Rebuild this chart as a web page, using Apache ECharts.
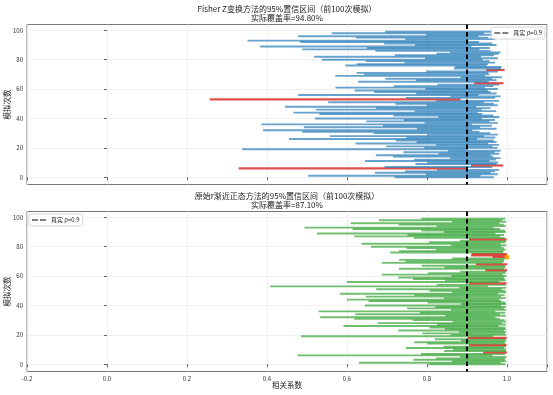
<!DOCTYPE html>
<html><head><meta charset="utf-8">
<script src="https://cdn.jsdelivr.net/npm/echarts@6/dist/echarts.min.js"></script>
<style>html,body{margin:0;padding:0;background:#fff}#c{width:553px;height:395px}</style>
</head><body><div id="c"></div>
<script>
// ---- data ----
const trueRho = 0.9;
const topTitle = 'Fisher Z变换方法的95%置信区间（前100次模拟）\n实际覆盖率=94.80%';
const bottomTitle = '原始r渐近正态方法的95%置信区间（前100次模拟）\n实际覆盖率=87.10%';
const legendLabel = '真实 ρ=0.9';
const xLabel = '相关系数';
const yLabel = '模拟次数';
const yTickValues = [0, 20, 40, 60, 80, 100];

// Fisher Z intervals, simulations 0..99
const fisherLower = [
 0.719,0.503,0.797,0.670,0.745,0.825,0.329,0.694,0.910,0.771,
 0.801,0.645,0.768,0.858,0.715,0.672,0.829,0.741,0.853,0.338,
 0.793,0.698,0.822,0.621,0.774,0.722,0.455,0.748,0.557,0.800,
 0.667,0.488,0.390,0.775,0.492,0.690,0.386,0.794,0.648,0.742,
 0.520,0.828,0.716,0.531,0.466,0.769,0.522,0.673,0.445,0.799,
 0.721,0.553,0.823,0.257,0.747,0.858,0.478,0.773,0.668,0.619,
 0.796,0.571,0.717,0.826,0.918,0.628,0.772,0.696,0.884,0.571,
 0.643,0.624,0.798,0.948,0.867,0.870,0.596,0.624,0.744,0.647,
 0.537,0.795,0.518,0.720,0.824,0.858,0.671,0.488,0.650,0.383,
 0.770,0.693,0.483,0.351,0.746,0.622,0.478,0.798,0.562,0.695
];
const fisherUpper = [
 0.967,0.934,0.977,0.959,0.970,0.980,0.899,0.963,0.990,0.974,
 0.978,0.956,0.973,0.984,0.966,0.959,0.981,0.969,0.984,0.902,
 0.976,0.964,0.980,0.953,0.974,0.967,0.925,0.971,0.943,0.977,
 0.958,0.931,0.913,0.974,0.932,0.962,0.912,0.977,0.956,0.970,
 0.937,0.981,0.966,0.938,0.927,0.973,0.937,0.959,0.923,0.977,
 0.967,0.942,0.980,0.884,0.970,0.984,0.929,0.974,0.959,0.952,
 0.977,0.945,0.966,0.980,0.991,0.954,0.974,0.963,0.987,0.945,
 0.956,0.953,0.977,0.994,0.985,0.986,0.949,0.953,0.970,0.956,
 0.939,0.977,0.935,0.967,0.980,0.984,0.959,0.931,0.957,0.911,
 0.974,0.963,0.930,0.904,0.970,0.953,0.929,0.977,0.943,0.963
];
// Original r asymptotic-normal intervals, simulations 0..99
const normalLower = [
 0.804,0.630,0.862,0.766,0.823,0.882,0.476,0.785,0.940,0.843,
 0.865,0.747,0.841,0.905,0.801,0.768,0.885,0.820,0.901,0.485,
 0.859,0.788,0.880,0.728,0.845,0.806,0.591,0.825,0.677,0.864,
 0.764,0.618,0.533,0.846,0.621,0.782,0.529,0.860,0.750,0.821,
 0.645,0.884,0.802,0.654,0.600,0.842,0.647,0.768,0.582,0.863,
 0.806,0.673,0.881,0.408,0.824,0.905,0.600,0.845,0.765,0.728,
 0.861,0.687,0.803,0.883,0.946,0.730,0.844,0.787,0.922,0.687,
 0.746,0.730,0.863,0.964,0.910,0.912,0.708,0.730,0.822,0.749,
 0.660,0.861,0.636,0.805,0.882,0.905,0.767,0.618,0.751,0.525,
 0.842,0.786,0.614,0.494,0.824,0.729,0.609,0.863,0.680,0.786
];
const normalUpper = [
 0.996,0.984,0.998,0.994,0.997,0.998,0.964,0.995,1.000,0.997,
 0.998,0.993,0.997,0.999,0.996,0.994,0.998,0.997,0.999,0.965,
 0.998,0.995,0.998,0.992,0.997,0.996,0.979,0.997,0.987,0.998,
 0.994,0.982,0.971,0.997,0.982,0.995,0.971,0.998,0.993,0.997,
 0.985,0.998,0.996,0.986,0.980,0.997,0.985,0.994,0.978,0.998,
 0.996,0.987,0.998,0.952,0.997,0.999,0.980,0.997,0.994,0.992,
 0.998,0.989,0.996,0.998,1.000,0.992,0.997,0.995,1.000,0.989,
 0.993,0.992,0.998,1.000,0.999,1.000,0.990,0.992,0.997,0.993,
 0.986,0.998,0.984,0.996,0.998,0.999,0.994,0.982,0.993,0.971,
 0.997,0.995,0.982,0.966,0.997,0.992,0.981,0.998,0.988,0.995
];
// highlighted point in the lower panel (upper bound reaching 1)
const edgePoints = [[1.0, 73]];

// ---- chart ----
const FONT = '"Noto Sans CJK SC","Noto Sans",sans-serif';
const chart = echarts.init(document.getElementById('c'), null, {renderer: 'canvas'});

function intervalSeries(lower, upper, okColor, g) {
  return {
    type: 'custom', xAxisIndex: g, yAxisIndex: g, silent: true, animation: false,
    data: lower.map((lo, i) => [lo, upper[i], i]),
    encode: {x: [0, 1], y: 2},
    renderItem(params, api) {
      const lo = api.value(0), hi = api.value(1), i = api.value(2);
      const p1 = api.coord([lo, i]), p2 = api.coord([hi, i]);
      const ok = lo <= trueRho && hi >= trueRho;
      return {
        type: 'line',
        shape: {x1: p1[0], y1: p1[1], x2: p2[0], y2: p2[1]},
        style: {stroke: ok ? okColor : '#d9312a', lineWidth: ok ? 1.9 : 2.2, opacity: ok ? 0.68 : 0.85}
      };
    }
  };
}
// vertical dashed reference line at the true rho, spanning the full plot height
function rhoSeries(g) {
  return {
    type: 'custom', name: legendLabel, xAxisIndex: g, yAxisIndex: g, silent: true, animation: false,
    data: [[trueRho, 50]], encode: {x: 0, y: 1},
    itemStyle: {color: '#000'},
    clip: false, z: 5,
    renderItem(params, api) {
      const p = api.coord([api.value(0), 50]);
      const cs = params.coordSys;
      return {
        type: 'line',
        shape: {x1: p[0], y1: cs.y, x2: p[0], y2: cs.y + cs.height},
        style: {stroke: '#000', lineWidth: 2, lineDash: [4.5, 3], fill: null}
      };
    }
  };
}
function xAxis(g) {
  return {
    gridIndex: g, type: 'value', min: -0.2, max: 1.1, interval: 0.2,
    axisLine: {show: false},
    axisTick: {show: true, length: 3, lineStyle: {color: '#666'}},
    axisLabel: {show: g === 1, fontSize: 6, color: '#333', margin: 4, fontFamily: FONT,
      formatter: v => (Math.abs(v - 1.1) < 1e-6 ? '' : v.toFixed(1))},
    splitLine: {show: true, lineStyle: {color: '#ececec', width: 0.8}},
    name: g === 1 ? xLabel : '', nameLocation: 'middle', nameGap: 10, nameMoveOverlap: false,
    nameTextStyle: {fontSize: 7.5, color: '#222', fontFamily: FONT}
  };
}
function yAxis(g) {
  return {
    gridIndex: g, type: 'value', min: -4.95, max: 103.95,
    axisLine: {show: false},
    axisTick: {show: true, length: 3, customValues: yTickValues, lineStyle: {color: '#666'}},
    axisLabel: {fontSize: 6, color: '#333', margin: 4, customValues: yTickValues, fontFamily: FONT},
    splitLine: {show: true, lineStyle: {color: '#ececec', width: 0.8}},
    name: yLabel, nameLocation: 'middle', nameGap: 16, nameRotate: 90, nameMoveOverlap: false,
    nameTextStyle: {fontSize: 7.5, color: '#222', fontFamily: FONT}
  };
}
const legendCommon = {
  data: [legendLabel], orient: 'vertical', itemWidth: 14, itemHeight: 2,
  icon: 'path://M0,0h6v1h-6z M8,0h6v1h-6z',
  padding: [3, 3], borderColor: '#ccc', borderWidth: 0.8, borderRadius: 2,
  backgroundColor: '#fff', selectedMode: false,
  textStyle: {fontSize: 6, color: '#222', fontFamily: FONT}
};

chart.setOption({
  animation: false,
  backgroundColor: '#fff',
  textStyle: {fontFamily: FONT},
  title: [
    {text: topTitle, left: 287, top: 4, textAlign: 'center', padding: 0,
     textStyle: {fontSize: 8, fontWeight: 'normal', color: '#222', lineHeight: 9.5, fontFamily: FONT}},
    {text: bottomTitle, left: 287, top: 191, textAlign: 'center', padding: 0,
     textStyle: {fontSize: 8, fontWeight: 'normal', color: '#222', lineHeight: 9.5, fontFamily: FONT}}
  ],
  grid: [
    {left: 27, right: 6, top: 24.5, height: 160, show: true, borderColor: '#777', borderWidth: 1,
     backgroundColor: 'transparent', containLabel: false, outerBoundsMode: 'none'},
    {left: 27, right: 6, top: 211.5, height: 160, show: true, borderColor: '#777', borderWidth: 1,
     backgroundColor: 'transparent', containLabel: false, outerBoundsMode: 'none'}
  ],
  legend: [
    Object.assign({}, legendCommon, {right: 8, top: 27}),
    Object.assign({}, legendCommon, {left: 29, top: 214})
  ],
  xAxis: [xAxis(0), xAxis(1)],
  yAxis: [yAxis(0), yAxis(1)],
  series: [
    intervalSeries(fisherLower, fisherUpper, '#1f77b4', 0),
    intervalSeries(normalLower, normalUpper, '#2ca02c', 1),
    rhoSeries(0),
    rhoSeries(1),
    {type: 'scatter', xAxisIndex: 1, yAxisIndex: 1, data: edgePoints, symbolSize: 5,
     itemStyle: {color: '#ffa500', opacity: 0.9}, silent: true, animation: false}
  ]
});
</script>
</body></html>
